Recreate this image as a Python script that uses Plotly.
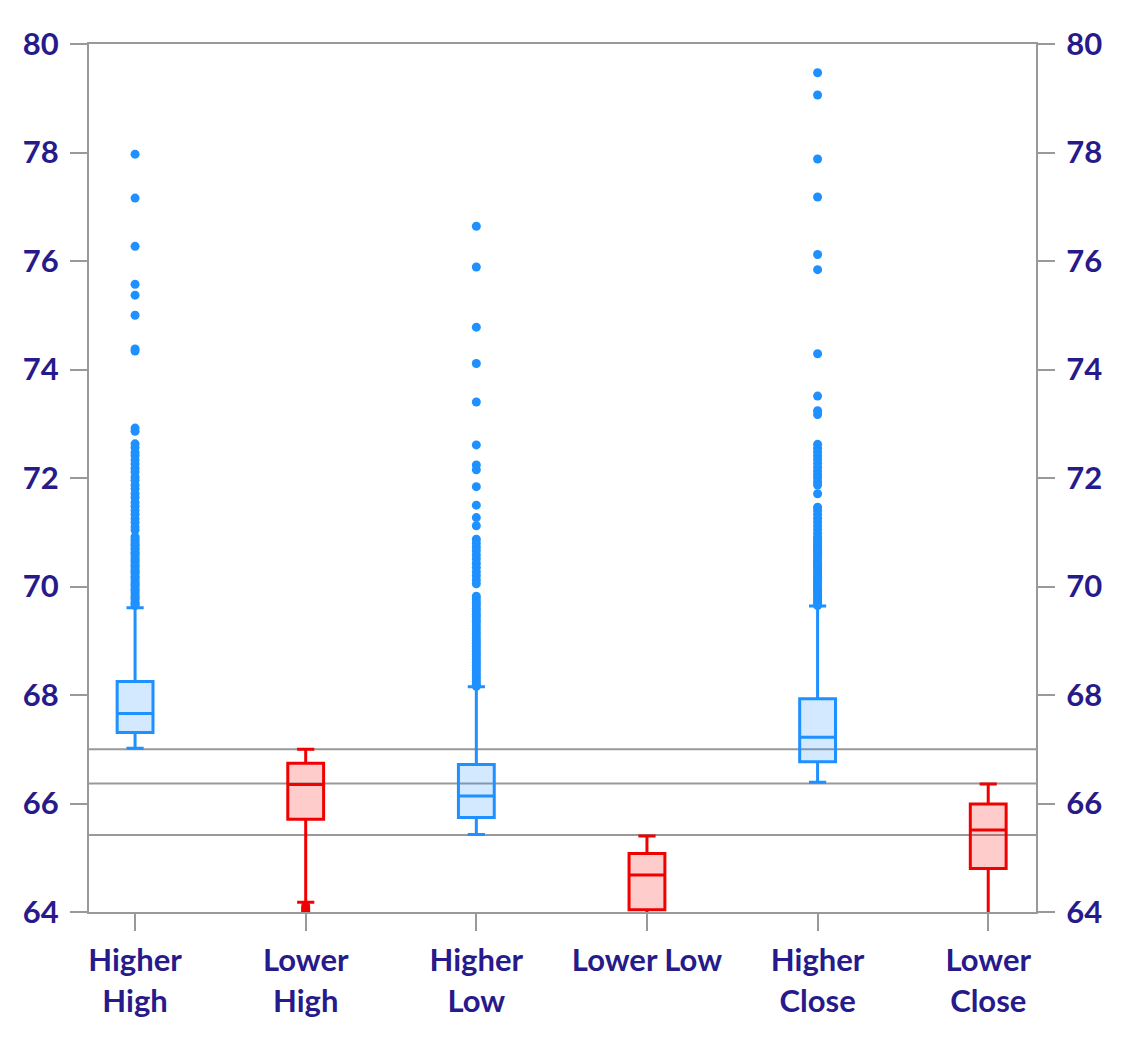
import plotly.graph_objects as go

categories = ["Higher<br>High", "Lower<br>High", "Higher<br>Low", "Lower Low", "Higher<br>Close", "Lower<br>Close"]
box_q1 = [67.31, 65.71, 65.74, 64.04, 66.77, 64.80]
box_median = [67.66, 66.35, 66.14, 64.68, 67.22, 65.51]
box_q3 = [68.25, 66.74, 66.72, 65.08, 67.93, 65.99]
box_lower = [67.02, 64.18, 65.43, 63.20, 66.39, 63.30]
box_upper = [69.61, 67.00, 68.15, 65.40, 69.64, 66.36]
box_kind = ["higher", "lower", "higher", "lower", "higher", "lower"]

outliers_higher_high = [77.97, 77.16, 76.27, 75.57, 75.37, 75.00, 74.38, 74.34, 72.92, 72.86,
                        72.63, 72.56, 72.47, 72.41, 72.33, 72.26, 72.18, 72.11, 72.02, 71.96,
                        71.87, 71.80, 71.71, 71.64, 71.55, 71.48, 71.40, 71.33, 71.25, 71.18,
                        71.10, 71.04, 70.92, 70.88, 70.84, 70.79, 70.76, 70.71, 70.68, 70.63,
                        70.60, 70.56, 70.51, 70.48, 70.44, 70.39, 70.36, 70.31, 70.28, 70.24,
                        70.19, 70.16, 70.12, 70.07, 70.04, 70.00, 69.95, 69.92, 69.88, 69.83,
                        69.80, 69.76, 69.71, 69.68, 69.65]
outliers_lower_high = [64.11, 64.07, 64.03, 64.00]
outliers_higher_low = [76.64, 75.89, 74.78, 74.11, 73.40, 72.61, 72.24, 72.15, 71.84, 71.50,
                       71.27, 71.12, 70.87, 70.80, 70.73, 70.66, 70.58, 70.51, 70.43, 70.35,
                       70.27, 70.20, 70.12, 70.05, 69.82, 69.77, 69.71, 69.66, 69.60, 69.55,
                       69.49, 69.44, 69.38, 69.33, 69.27, 69.22, 69.16, 69.11, 69.05, 69.00,
                       68.95, 68.90, 68.85, 68.80, 68.75, 68.70, 68.65, 68.60, 68.55, 68.50,
                       68.45, 68.40, 68.35, 68.30, 68.25, 68.20, 68.16]
outliers_higher_close = [79.47, 79.06, 77.88, 77.18, 76.12, 75.84, 74.29, 73.51, 73.24, 73.17,
                         72.62, 72.55, 72.48, 72.41, 72.34, 72.27, 72.20, 72.13, 72.06, 72.00,
                         71.93, 71.87, 71.71, 71.46, 71.40, 71.33, 71.26, 71.19, 71.12, 71.05,
                         70.98, 70.92, 70.87, 70.83, 70.79, 70.75, 70.71, 70.67, 70.63, 70.59,
                         70.55, 70.51, 70.47, 70.43, 70.39, 70.35, 70.31, 70.27, 70.23, 70.19,
                         70.15, 70.11, 70.07, 70.03, 69.99, 69.95, 69.91, 69.87, 69.83, 69.79,
                         69.75, 69.71, 69.67, 69.65]
outlier_sets = [outliers_higher_high, outliers_lower_high, outliers_higher_low, [], outliers_higher_close, []]

reference_levels = [67.00, 66.37, 65.42]
y_ticks = [64, 66, 68, 70, 72, 74, 76, 78, 80]

colors = {
    "higher": ("#1E90FF", "rgba(30,144,255,0.2)"),
    "lower": ("#F00000", "rgba(255,0,0,0.2)"),
}
text_color = "#271A8A"
axis_color = "#999999"
font_family = "Lato"

fig = go.Figure()

for i, cat in enumerate(categories):
    line_c, fill_c = colors[box_kind[i]]
    fig.add_trace(go.Box(
        x=[cat], q1=[box_q1[i]], median=[box_median[i]], q3=[box_q3[i]],
        lowerfence=[box_lower[i]], upperfence=[box_upper[i]],
        boxpoints=False, width=0.21, whiskerwidth=0.48,
        line=dict(color=line_c, width=3), fillcolor=fill_c,
        showlegend=False, hoverinfo="skip",
    ))
    if outlier_sets[i]:
        fig.add_trace(go.Scatter(
            x=[cat] * len(outlier_sets[i]), y=outlier_sets[i], mode="markers",
            marker=dict(color=line_c, size=9, line=dict(width=0)),
            showlegend=False, hoverinfo="skip",
        ))

# invisible trace to anchor right axis
fig.add_trace(go.Scatter(x=[categories[0]], y=[y_ticks[0]], yaxis="y2", mode="markers",
                         marker=dict(opacity=0), showlegend=False, hoverinfo="skip"))

for lv in reference_levels:
    fig.add_shape(type="line", xref="paper", x0=0, x1=1, yref="y", y0=lv, y1=lv,
                  line=dict(color=axis_color, width=2), layer="below")

tickfont = dict(family=font_family, size=31, color=text_color, weight="bold")

fig.update_layout(
    width=1109, height=1034,
    margin=dict(l=81, r=81, t=36, b=130),
    plot_bgcolor="white", paper_bgcolor="white",
    xaxis=dict(
        type="category", categoryorder="array", categoryarray=categories,
        range=[-0.27, 5.28], showgrid=False, zeroline=False,
        showline=True, linecolor=axis_color, linewidth=2, mirror=True,
        ticks="outside", ticklen=17, tickwidth=2, tickcolor=axis_color,
        tickfont=tickfont, ticklabelstandoff=3,
    ),
    yaxis=dict(
        range=[64, 80], tickvals=y_ticks, showgrid=False, zeroline=False,
        showline=True, linecolor=axis_color, linewidth=2,
        ticks="outside", ticklen=17, tickwidth=2, tickcolor=axis_color,
        tickfont=tickfont, ticklabelstandoff=5,
    ),
    yaxis2=dict(
        range=[64, 80], tickvals=y_ticks, overlaying="y", side="right",
        showgrid=False, zeroline=False,
        showline=True, linecolor=axis_color, linewidth=2,
        ticks="outside", ticklen=17, tickwidth=2, tickcolor=axis_color,
        tickfont=tickfont, ticklabelstandoff=5,
    ),
)

fig.write_html("out.html")
